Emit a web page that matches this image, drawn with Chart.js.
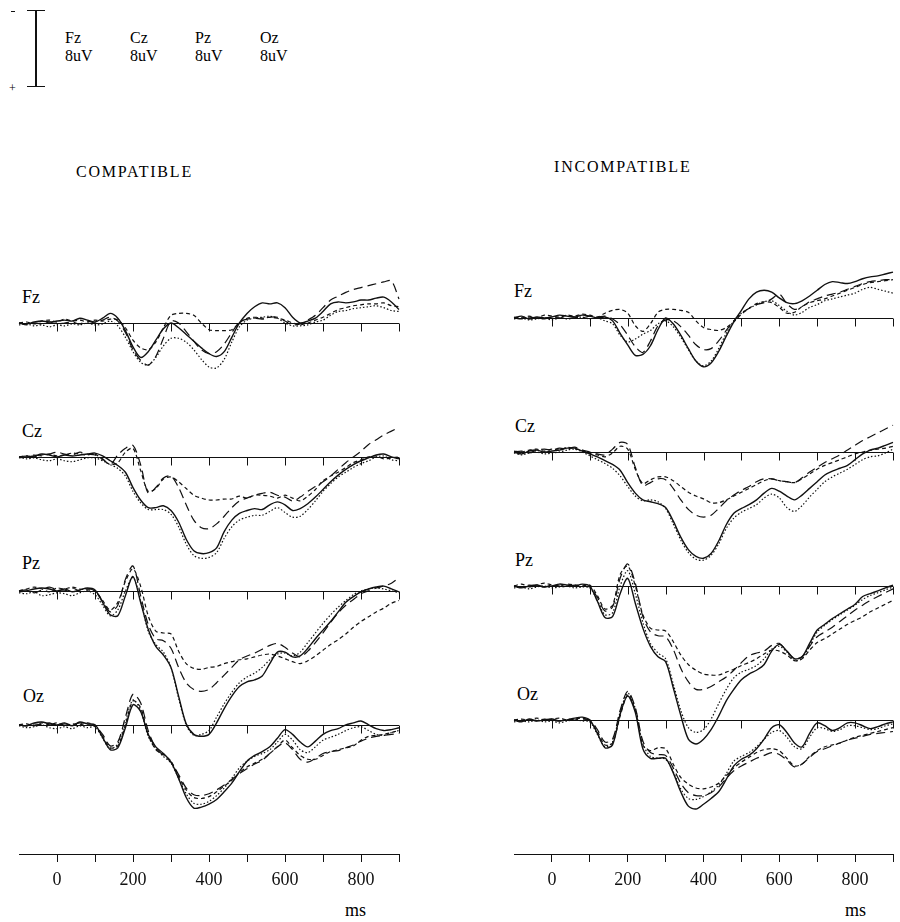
<!DOCTYPE html>
<html>
<head>
<meta charset="utf-8">
<title>ERP compatible / incompatible</title>
<script src="https://cdn.jsdelivr.net/npm/chart.js@4.4.1/dist/chart.umd.min.js"></script>
<style>
  body { margin: 0; width: 900px; height: 922px; position: relative; overflow: hidden; background: #fff;
         font-family: "Liberation Serif", "DejaVu Serif", serif; color: #000; }
  .t { position: absolute; white-space: nowrap; font-size: 16px; line-height: 16px; }
  .ch { font-size: 18px; line-height: 18px; }
  .title { position: absolute; white-space: nowrap; font-size: 16px; letter-spacing: 1.8px; }
  .bar { position: absolute; background: #111; }
  canvas { position: absolute; }
</style>
</head>
<body>

<!-- scale bar, negative up -->
<div class="bar" style="left:11px;top:11px;width:4px;height:1px"></div>
<div class="t" style="left:9px;top:80px;font-size:12px;color:#000">+</div>
<div class="bar" style="left:35px;top:10px;width:1.5px;height:77px"></div>
<div class="bar" style="left:27px;top:10px;width:18px;height:1px"></div>
<div class="bar" style="left:27px;top:86px;width:18px;height:1px"></div>
<div class="t" style="left:65px;top:30px">Fz</div><div class="t" style="left:65px;top:48px">8uV</div>
<div class="t" style="left:130px;top:30px">Cz</div><div class="t" style="left:130px;top:48px">8uV</div>
<div class="t" style="left:195px;top:30px">Pz</div><div class="t" style="left:195px;top:48px">8uV</div>
<div class="t" style="left:260px;top:30px">Oz</div><div class="t" style="left:260px;top:48px">8uV</div>

<div class="title" style="left:76px;top:163px">COMPATIBLE</div>
<div class="title" style="left:554px;top:158px">INCOMPATIBLE</div>

<div class="t ch" style="left:22px;top:288px">Fz</div>
<div class="t ch" style="left:22px;top:422px">Cz</div>
<div class="t ch" style="left:22px;top:554px">Pz</div>
<div class="t ch" style="left:23px;top:687px">Oz</div>

<div class="t ch" style="left:514px;top:282px">Fz</div>
<div class="t ch" style="left:515px;top:417px">Cz</div>
<div class="t ch" style="left:515px;top:551px">Pz</div>
<div class="t ch" style="left:517px;top:685px">Oz</div>

<div class="t" style="left:345px;top:902px;font-size:18px">ms</div>
<div class="t" style="left:845px;top:902px;font-size:18px">ms</div>

<canvas id="compChart" width="450" height="692" style="left:0;top:230px"></canvas>
<canvas id="incChart" width="450" height="692" style="left:450px;top:230px"></canvas>

<script>
// time axis (ms)
const times = [-100, -80, -60, -40, -20, 0, 20, 40, 60, 80, 100, 120, 140, 160, 180, 200, 220, 240, 260, 280,
  300, 320, 340, 360, 380, 400, 420, 440, 460, 480, 500, 520, 540, 560, 580, 600, 620, 640, 660, 680,
  700, 720, 740, 760, 780, 800, 820, 840, 860, 880, 900]
const tickValues = [0, 100, 200, 300, 400, 500, 600, 700, 800, 900]
const tickLabels = ['0', '', '200', '', '400', '', '600', '', '800', '']
const chNames = ['Fz', 'Cz', 'Pz', 'Oz']
const lineNames = ['solid', 'dotted', 'dashed', 'long dash']

// uV, positive = down. each channel: [solid, dotted, dashed, long dash]
const compFz = [
  [0, 0.1, -0.1, -0.2, -0.1, -0.2, -0.3, -0.2, -0.5, -0.3, -0.1, -0.5, -1.0, -0.5, 0.8, 2.5, 3.6, 3.0, 1.8, 0.6, 0.0, 0.5, 1.2, 1.9, 2.6, 3.2, 3.5, 3.0, 1.5, 0.0, -1.0, -1.7, -2.1, -2.0, -2.1, -1.6, -0.6, 0.0, -0.2, -0.5, -1.2, -2.0, -2.2, -2.1, -2.2, -2.4, -2.4, -2.6, -2.7, -2.2, -1.4],
  [0.2, 0.1, 0.3, 0.2, 0.4, 0.2, 0.3, 0.1, 0.2, 0.0, 0.2, 0.1, -0.2, 0.3, 1.5, 3.0, 4.1, 4.4, 3.6, 2.4, 1.6, 1.6, 2.0, 2.8, 3.8, 4.6, 4.7, 3.8, 2.0, 0.4, -0.3, -0.5, -0.6, -0.7, -0.5, 0.0, 0.3, 0.3, 0.2, -0.1, -0.3, -0.8, -1.2, -1.3, -1.5, -1.6, -1.7, -1.8, -1.6, -1.3, -1.2],
  [0, -0.1, 0.1, -0.2, -0.3, -0.1, -0.4, -0.2, -0.3, -0.1, -0.3, -0.2, -0.4, -0.3, 0.5, 1.8, 2.6, 2.8, 2.0, 0.5, -0.8, -1.0, -1.0, -0.8, 0.0, 0.7, 0.8, 0.8, 0.7, 0.0, -0.5, -0.6, -0.5, -0.6, -0.5, -0.3, 0.0, 0.2, 0.0, -0.3, -0.6, -1.0, -1.4, -1.6, -1.8, -1.9, -2.0, -2.0, -2.1, -1.8, -1.7],
  [0, 0.2, 0.0, 0.1, -0.1, 0.1, 0.0, -0.1, 0.1, -0.2, 0.0, -0.3, -0.6, -0.2, 1.0, 2.8, 3.9, 4.4, 3.5, 1.6, -0.2, 0.0, 0.9, 1.9, 2.8, 3.2, 3.0, 2.2, 1.0, -0.1, -0.4, -0.5, -0.4, -0.6, -0.6, -0.2, 0.2, 0.1, -0.3, -0.8, -1.6, -2.4, -2.8, -3.2, -3.5, -3.7, -3.9, -4.1, -4.3, -4.4, -2.5]
]
const compCz = [
  [0.1, 0.0, -0.1, -0.3, -0.2, 0.0, -0.2, -0.1, -0.2, -0.3, -0.4, -0.1, 0.4, 0.9, 1.6, 3.2, 4.5, 5.3, 5.3, 5.1, 5.6, 6.8, 8.6, 9.8, 10.1, 10.0, 9.5, 7.8, 6.6, 5.9, 5.6, 5.4, 5.5, 5.0, 4.7, 5.0, 5.6, 5.4, 4.9, 4.2, 3.4, 2.6, 1.9, 1.3, 0.8, 0.4, 0.1, -0.2, -0.3, 0.0, 0.2],
  [0.0, 0.2, 0.1, 0.3, 0.4, 0.2, 0.4, 0.5, 0.3, 0.1, 0.1, 0.4, 0.8, 1.2, 2.0, 3.6, 4.8, 5.5, 5.5, 5.5, 6.0, 7.3, 9.1, 10.3, 10.6, 10.5, 10.0, 8.5, 7.3, 6.6, 6.3, 6.1, 6.1, 5.7, 5.3, 5.8, 6.3, 6.2, 5.5, 4.6, 3.6, 2.8, 2.1, 1.6, 1.1, 0.7, 0.4, 0.0, -0.1, 0.3, 0.4],
  [0, -0.1, 0, -0.2, -0.3, -0.1, -0.2, -0.4, -0.3, -0.2, -0.3, 0.3, 0.8, 0.6, -0.5, -0.9, 1.4, 3.6, 3.3, 2.3, 2.1, 2.6, 3.3, 4.0, 4.3, 4.5, 4.5, 4.4, 4.4, 4.1, 4.3, 4.0, 4.0, 4.1, 4.3, 4.0, 4.3, 4.6, 4.1, 3.4, 2.5, 2.0, 1.6, 1.1, 0.6, 0.3, 0.0, -0.1, 0.2, 0.1, 0.0],
  [0, -0.1, -0.2, -0.1, -0.3, -0.5, -0.3, -0.2, -0.5, -0.3, -0.2, 0.2, 0.8, -0.2, -0.9, -1.2, 0.8, 3.8, 3.2, 2.2, 2.0, 3.2, 5.0, 6.6, 7.4, 7.5, 7.0, 6.2, 5.3, 4.6, 4.3, 4.0, 3.8, 3.7, 4.0, 4.2, 4.6, 4.2, 3.6, 3.1, 2.6, 2.0, 1.3, 0.6, 0.0, -0.6, -1.3, -1.8, -2.3, -2.7, -3.1]
]
const compPz = [
  [0.1, 0.0, -0.2, -0.3, -0.2, 0.0, -0.2, 0.1, -0.1, -0.3, -0.1, 1.2, 2.5, 2.6, 0.5, -1.5, 1.2, 4.0, 5.8, 6.7, 8.0, 11.0, 13.9, 15.0, 15.2, 15.0, 13.8, 12.3, 11.0, 10.0, 9.5, 9.3, 8.9, 7.6, 6.4, 6.4, 6.9, 6.8, 6.0, 5.0, 4.1, 3.2, 2.2, 1.2, 0.6, 0.1, -0.2, -0.4, -0.5, -0.2, 0.1],
  [0.2, 0.3, 0.1, 0.5, 0.4, 0.2, 0.3, 0.5, 0.2, 0.0, 0.4, 1.5, 2.6, 2.0, 0.0, -1.4, 1.0, 4.2, 5.6, 6.4, 8.0, 11.2, 14.0, 15.1, 15.0, 14.6, 13.2, 11.8, 10.6, 9.6, 9.0, 8.6, 8.0, 7.2, 6.6, 6.5, 6.8, 6.4, 5.4, 4.4, 3.4, 2.5, 1.7, 1.0, 0.4, 0.0, -0.2, -0.3, -0.2, 0.0, 0.2],
  [0, -0.2, -0.4, -0.2, 0.1, -0.3, -0.2, -0.4, -0.2, -0.1, 0.0, 1.0, 2.0, 1.2, -1.0, -2.3, -0.5, 2.6, 4.2, 4.4, 4.5, 6.3, 7.6, 8.1, 8.2, 8.0, 7.9, 7.6, 7.4, 7.2, 7.1, 6.9, 6.7, 6.6, 6.8, 7.1, 7.4, 7.6, 7.3, 6.8, 6.2, 5.6, 5.1, 4.5, 3.8, 3.2, 2.7, 2.2, 1.8, 1.3, 1.0],
  [0.0, -0.1, 0.2, -0.1, -0.4, -0.1, 0.0, -0.3, 0.0, -0.2, 0.0, 1.1, 2.2, 1.5, -1.2, -2.6, 0.5, 3.5, 5.0, 5.2, 6.0, 8.0, 9.6, 10.3, 10.5, 10.3, 9.6, 8.8, 8.0, 7.2, 6.8, 6.5, 6.1, 5.7, 5.5, 5.9, 6.5, 6.9, 6.3, 5.4, 4.4, 3.3, 2.3, 1.5, 0.9, 0.3, 0.0, -0.3, -0.5, -0.8, -1.4]
]
const compOz = [
  [0.0, 0.1, -0.2, -0.3, -0.1, 0.0, -0.2, 0.1, -0.3, -0.1, 0.0, 1.3, 2.6, 2.4, 0.3, -2.1, -1.4, 1.0, 2.3, 3.0, 3.9, 5.6, 7.6, 8.7, 8.6, 8.3, 7.8, 7.0, 6.1, 4.9, 3.8, 3.2, 2.8, 2.3, 1.4, 0.5, 1.0, 1.8, 2.3, 1.7, 1.0, 0.6, 0.4, 0.0, -0.2, -0.4, 0.0, 0.4, 0.6, 0.5, 0.3],
  [0.1, 0.3, 0.2, 0.0, 0.3, 0.4, 0.2, 0.4, 0.1, 0.3, 0.2, 1.4, 2.5, 2.0, -0.3, -2.6, -1.5, 1.2, 2.5, 3.3, 4.0, 5.6, 7.2, 8.2, 8.3, 8.0, 7.4, 6.6, 5.6, 4.5, 3.8, 3.3, 3.0, 2.6, 1.8, 1.0, 1.6, 2.6, 2.9, 2.3, 1.6, 1.3, 1.0, 0.6, 0.3, 0.2, 0.6, 1.0, 1.1, 0.8, 0.6],
  [0, -0.1, 0.1, -0.2, 0.0, -0.2, 0.1, -0.1, 0.0, -0.2, 0.1, 1.2, 2.4, 2.2, 0.0, -2.5, -1.8, 1.0, 2.6, 3.1, 3.8, 5.4, 6.8, 7.6, 7.7, 7.5, 7.0, 6.4, 5.8, 5.0, 4.4, 4.0, 3.6, 3.0, 2.3, 1.6, 2.4, 3.2, 3.6, 3.6, 3.2, 2.8, 2.6, 2.4, 2.2, 1.6, 1.2, 1.1, 1.0, 0.8, 0.6],
  [0, 0.1, -0.1, 0.0, -0.2, 0.1, -0.1, 0.0, -0.2, 0.0, 0.1, 1.0, 2.2, 1.8, -0.8, -3.2, -2.3, 0.6, 2.4, 3.2, 3.9, 5.2, 6.6, 7.3, 7.4, 7.2, 6.8, 6.3, 5.7, 5.1, 4.6, 4.1, 3.7, 3.0, 2.3, 1.9, 2.6, 3.6, 3.9, 3.5, 3.0, 2.8, 2.7, 2.4, 2.1, 1.7, 1.4, 1.2, 1.1, 1.0, 0.9]
]

const incFz = [
  [0.0, -0.2, 0.1, -0.1, 0.0, -0.1, -0.3, -0.2, -0.1, -0.3, -0.2, 0.0, -0.1, 0.3, 1.6, 2.8, 3.9, 3.8, 2.9, 1.2, 0.0, 0.6, 1.8, 3.2, 4.5, 5.1, 4.7, 3.5, 1.9, 0.4, -0.8, -2.0, -2.7, -2.9, -2.7, -2.1, -1.6, -1.5, -1.8, -2.3, -2.9, -3.5, -3.8, -3.7, -3.6, -3.8, -4.1, -4.3, -4.4, -4.6, -4.8],
  [0.1, 0.0, 0.2, 0.1, 0.0, 0.2, 0.0, 0.1, 0.0, -0.1, 0.1, 0.0, 0.3, 0.6, 1.8, 2.5, 2.2, 1.7, 1.3, 0.6, 0.3, 0.9, 2.0, 3.3, 4.5, 5.0, 4.5, 3.2, 1.6, 0.3, -0.5, -1.0, -1.4, -1.7, -1.8, -1.3, -0.7, -0.3, -0.6, -1.1, -1.4, -1.8, -2.0, -2.2, -2.4, -2.6, -3.0, -3.2, -3.0, -2.8, -2.6],
  [-0.1, 0.0, -0.2, 0.0, -0.3, -0.2, -0.1, -0.3, -0.2, -0.4, -0.3, -0.1, -0.5, -0.8, -0.9, -0.5, 0.8, 1.4, 0.6, -0.6, -0.9, -0.9, -0.8, -0.6, 0.3, 1.0, 1.2, 1.3, 1.0, 0.4, -0.4, -1.0, -1.5, -1.7, -1.6, -1.1, -0.5, -0.6, -1.2, -1.6, -1.8, -2.0, -2.3, -2.6, -2.9, -3.2, -3.5, -3.7, -3.8, -3.9, -4.0],
  [0.0, 0.1, -0.1, 0.0, 0.1, -0.1, 0.0, -0.2, -0.1, 0.0, -0.2, -0.1, -0.2, 0.1, 0.7, 1.8, 3.0, 3.6, 2.4, 0.8, 0.2, 0.3, 0.9, 1.8, 2.8, 3.3, 3.2, 2.4, 1.3, 0.3, -0.5, -1.0, -1.4, -1.6, -2.0, -2.5, -1.5, -0.9, -1.2, -1.7, -2.0, -2.3, -2.5, -2.7, -3.0, -3.3, -3.6, -3.8, -3.9, -4.0, -4.0]
]
const incCz = [
  [0.0, 0.2, -0.1, -0.2, 0.0, -0.1, -0.2, -0.4, -0.4, -0.1, 0.2, 0.5, 0.9, 1.3, 1.9, 3.2, 4.3, 5.0, 5.2, 5.4, 5.8, 7.2, 8.9, 10.2, 10.9, 11.1, 10.6, 9.3, 7.6, 6.4, 5.9, 5.5, 5.0, 4.3, 3.8, 4.1, 4.6, 5.0, 4.5, 3.8, 3.1, 2.4, 2.0, 1.7, 1.4, 0.8, 0.2, -0.2, -0.4, -0.7, -1.0],
  [0.1, 0.3, 0.1, 0.0, 0.2, 0.1, 0.0, -0.2, -0.3, 0.0, 0.4, 0.8, 1.2, 1.7, 2.5, 3.6, 4.6, 5.1, 5.0, 5.2, 5.9, 7.5, 9.2, 10.5, 11.2, 11.3, 10.8, 9.6, 8.0, 6.9, 6.3, 5.9, 5.5, 4.8, 4.4, 4.8, 5.8, 6.2, 5.6, 4.7, 3.9, 3.1, 2.6, 2.2, 1.8, 1.3, 0.8, 0.5, 0.4, 0.1, -0.3],
  [-0.1, 0.0, -0.2, -0.3, -0.1, -0.3, -0.2, -0.5, -0.3, -0.2, 0.2, 0.3, 0.5, 0.1, -0.6, -0.3, 1.8, 3.3, 2.9, 2.6, 2.6, 3.0, 3.6, 4.2, 4.6, 4.9, 5.3, 5.3, 5.0, 4.6, 4.2, 3.8, 3.4, 3.0, 2.8, 3.0, 3.1, 3.2, 2.8, 2.3, 1.8, 1.4, 1.1, 0.8, 0.5, 0.2, 0.0, -0.2, -0.3, -0.4, -0.6],
  [0.0, -0.1, 0.1, -0.2, -0.3, -0.2, -0.4, -0.3, -0.5, -0.2, 0.0, 0.2, 0.3, -0.3, -1.0, -0.8, 1.6, 3.5, 3.2, 2.8, 2.9, 3.8, 5.0, 6.0, 6.6, 6.8, 6.6, 5.9, 5.1, 4.5, 4.0, 3.6, 3.1, 2.8, 2.8, 3.0, 3.1, 3.2, 2.7, 2.1, 1.6, 1.1, 0.7, 0.3, -0.2, -0.7, -1.2, -1.6, -2.0, -2.4, -2.8]
]
const incPz = [
  [0.0, 0.2, 0.0, -0.1, 0.1, 0.0, -0.2, -0.1, 0.0, -0.2, 0.0, 1.6, 3.3, 3.2, 0.8, -0.8, 1.8, 4.4, 6.3, 7.4, 7.9, 10.6, 13.5, 16.0, 16.5, 16.0, 15.0, 13.6, 12.0, 10.8, 9.8, 9.2, 8.8, 8.2, 6.8, 6.1, 6.8, 7.6, 7.4, 6.0, 4.6, 4.0, 3.4, 2.9, 2.4, 1.9, 1.1, 0.8, 0.5, 0.2, -0.1],
  [0.2, 0.1, 0.3, 0.1, 0.0, 0.2, 0.1, 0.0, 0.2, 0.1, 0.2, 1.5, 3.0, 2.8, 0.0, -1.6, 0.8, 3.8, 6.0, 7.0, 7.6, 10.2, 13.0, 14.8, 15.3, 15.0, 13.9, 12.3, 10.8, 9.6, 9.0, 8.7, 8.3, 7.6, 6.6, 6.3, 6.9, 7.8, 7.6, 6.2, 4.8, 4.1, 3.5, 3.0, 2.5, 2.0, 1.4, 1.0, 0.7, 0.4, 0.1],
  [0.0, -0.2, 0.1, -0.1, -0.3, -0.1, 0.0, -0.2, -0.1, 0.0, -0.1, 1.0, 2.4, 2.0, -1.2, -2.1, 0.0, 3.0, 4.4, 4.6, 4.7, 5.8, 7.2, 8.2, 8.8, 9.2, 9.3, 9.3, 9.0, 8.7, 8.3, 8.0, 7.6, 7.1, 6.7, 6.8, 7.2, 7.8, 7.6, 6.7, 5.9, 5.5, 5.0, 4.5, 4.0, 3.6, 3.2, 2.7, 2.3, 1.9, 1.5],
  [0.0, 0.1, -0.1, 0.0, 0.1, -0.1, 0.0, 0.1, -0.1, 0.0, 0.1, 1.2, 2.6, 2.2, -0.8, -2.3, -0.3, 3.2, 4.8, 5.2, 5.3, 6.6, 8.6, 10.0, 10.8, 10.8, 10.5, 10.0, 9.5, 8.8, 8.0, 7.3, 7.0, 6.8, 6.2, 6.0, 6.8, 7.6, 7.4, 6.3, 5.3, 4.8, 4.3, 3.7, 3.1, 2.5, 2.0, 1.5, 1.1, 0.7, 0.3]
]
const incOz = [
  [0.0, 0.2, -0.1, 0.1, 0.0, -0.1, 0.1, 0.0, -0.2, -0.3, 0.0, 1.4, 2.9, 2.6, -0.6, -2.5, -0.8, 3.0, 4.0, 4.0, 4.0, 5.5, 7.5, 9.0, 9.3, 8.8, 8.2, 7.5, 6.2, 4.8, 4.1, 3.7, 3.0, 2.0, 0.8, 0.5, 1.3, 2.4, 2.8, 1.4, 0.3, 0.6, 1.1, 0.8, 0.3, 0.3, 0.6, 0.9, 0.7, 0.4, 0.2],
  [0.2, 0.1, 0.2, 0.0, 0.2, 0.1, 0.3, 0.1, 0.0, 0.1, 0.2, 1.5, 2.8, 2.3, -0.8, -2.8, -1.2, 2.5, 3.8, 4.0, 4.1, 5.4, 7.2, 8.2, 8.3, 8.0, 7.5, 6.8, 5.6, 4.3, 3.8, 3.4, 2.8, 2.0, 1.3, 1.1, 1.8, 2.8, 3.0, 1.8, 0.8, 0.9, 1.2, 1.0, 0.6, 0.6, 0.8, 1.0, 0.9, 0.6, 0.4],
  [0.0, -0.1, 0.0, -0.2, 0.0, -0.1, -0.2, 0.0, -0.1, -0.2, 0.1, 1.2, 2.6, 2.4, -0.4, -2.6, -1.0, 2.6, 3.2, 2.9, 3.0, 4.6, 6.0, 6.7, 7.1, 7.2, 7.0, 6.6, 5.8, 5.0, 4.4, 3.9, 3.4, 3.1, 3.0, 3.2, 4.0, 4.8, 4.6, 3.8, 3.2, 2.8, 2.6, 2.4, 2.1, 1.8, 1.6, 1.4, 1.2, 1.0, 0.8],
  [0.0, 0.1, 0.0, 0.1, -0.1, 0.0, 0.1, -0.1, 0.0, -0.1, 0.0, 1.0, 2.3, 2.0, -1.0, -3.0, -1.3, 2.2, 3.4, 3.6, 3.7, 5.0, 6.6, 7.6, 7.9, 7.9, 7.6, 7.0, 6.1, 5.3, 4.8, 4.4, 4.0, 3.7, 3.4, 3.6, 4.2, 4.9, 4.6, 3.9, 3.3, 3.0, 2.7, 2.4, 2.1, 1.9, 1.7, 1.5, 1.4, 1.3, 1.2]
]

// y ranges per channel (uV) - the last one leaves room for the time axis
const compRanges = [[-7, 7], [-7, 7], [-7, 7], [-7, 13.5]]
const incRanges = [[-7, 7], [-7, 7], [-7, 7], [-7, 14]]

const dashes = [[], [1.5, 2], [4, 3], [9, 5]]
const ink = '#111'

function setTicks(scale) {
  scale.ticks = tickValues.map(v => ({ value: v }))
}

// zero line of every channel with the 100 ms marks hanging below it
const zeroLines = {
  id: 'zeroLines',
  beforeDatasetsDraw(chart) {
    const ctx = chart.ctx
    const xs = chart.scales.x
    ctx.save()
    ctx.strokeStyle = ink
    ctx.lineWidth = 1
    chNames.forEach(ch => {
      const y0 = Math.round(chart.scales['y' + ch].getPixelForValue(0)) + 0.5
      ctx.beginPath()
      ctx.moveTo(xs.left, y0)
      ctx.lineTo(xs.right, y0)
      tickValues.forEach(v => {
        const px = Math.round(xs.getPixelForValue(v)) + 0.5
        ctx.moveTo(px, y0)
        ctx.lineTo(px, y0 + 8)
      })
      ctx.stroke()
    })
    ctx.restore()
  }
}

function makePanel(id, channels, ranges, pad) {
  let datasets = []
  chNames.forEach((ch, c) => {
    channels[c].forEach((vals, s) => {
      datasets.push({
        label: ch + ' ' + lineNames[s],
        data: times.map((t, i) => ({ x: t, y: vals[i] })),
        xAxisID: 'x',
        yAxisID: 'y' + ch,
        borderColor: ink,
        borderWidth: s == 0 ? 1.4 : 1.2,
        borderDash: dashes[s],
        pointRadius: 0,
        tension: 0.3,
        clip: false
      })
    })
  })

  let scales = {
    x: {
      type: 'linear', min: -100, max: 900, position: 'bottom',
      afterBuildTicks: setTicks,
      afterFit: (s) => { s.height = 40 },
      grid: { drawOnChartArea: false, drawTicks: true, tickLength: 8, color: ink, tickColor: ink },
      border: { display: true, color: ink, width: 1 },
      ticks: {
        autoSkip: false, maxRotation: 0, padding: 7, color: ink,
        font: { family: 'Liberation Serif', size: 18 },
        callback: (v, i) => tickLabels[i]
      }
    }
  }
  // bottom channel first so that Fz ends up on top of the stack
  for (let c = chNames.length - 1; c >= 0; c--) {
    scales['y' + chNames[c]] = {
      type: 'linear', display: false, reverse: true,
      min: ranges[c][0], max: ranges[c][1],
      stack: 'erp', stackWeight: ranges[c][1] - ranges[c][0]
    }
  }

  return new Chart(document.getElementById(id), {
    type: 'line',
    data: { datasets: datasets },
    options: {
      responsive: false,
      animation: false,
      layout: { padding: pad },
      plugins: { legend: { display: false }, tooltip: { enabled: false } },
      scales: scales
    },
    plugins: [zeroLines]
  })
}

makePanel('compChart', [compFz, compCz, compPz, compOz], compRanges, { left: 19, right: 51, top: 26, bottom: 28 })
makePanel('incChart', [incFz, incCz, incPz, incOz], incRanges, { left: 64, right: 2, top: 21, bottom: 28 })
</script>
</body>
</html>
